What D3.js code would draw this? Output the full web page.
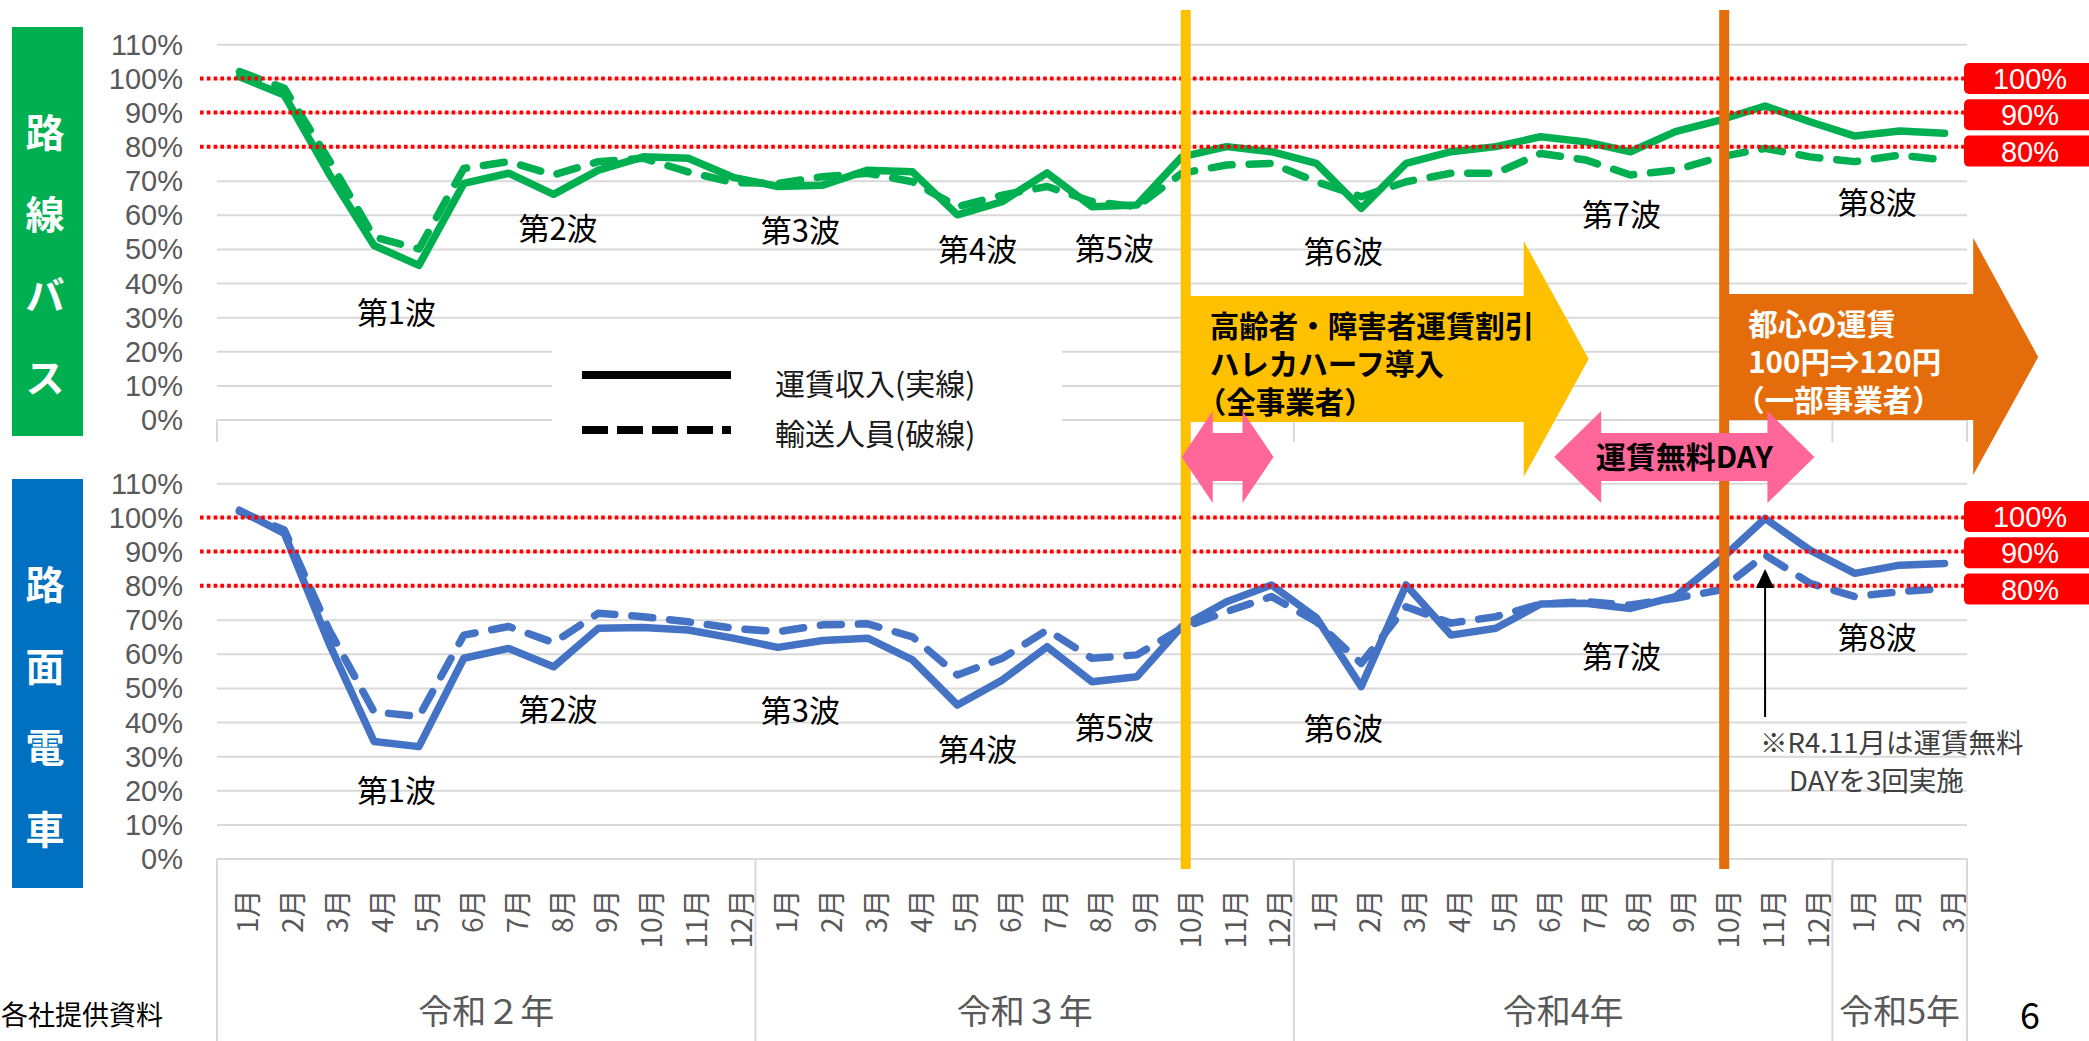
<!DOCTYPE html>
<html>
<head>
<meta charset="utf-8">
<script src="https://cdn.jsdelivr.net/npm/d3@7"></script>
<style>
  html, body { margin: 0; padding: 0; background: #fff; overflow: hidden; }
  svg { display: block; }
  text { font-family: "Noto Sans CJK JP", "Noto Sans", sans-serif; }
</style>
</head>
<body>
<svg id="chart" width="2089" height="1041"></svg>
<script>
// ---- data ---------------------------------------------------------------
const monthLabels = [
  "1月","2月","3月","4月","5月","6月","7月","8月","9月","10月","11月","12月",
  "1月","2月","3月","4月","5月","6月","7月","8月","9月","10月","11月","12月",
  "1月","2月","3月","4月","5月","6月","7月","8月","9月","10月","11月","12月",
  "1月","2月","3月"
];
const yearLabels = ["令和２年", "令和３年", "令和4年", "令和5年"];
const yearMonthCounts = [12, 12, 12, 3];

// 路線バス (% of pre-pandemic level)
const busFare = [
  100.5, 95.1, 72.0, 51.0, 45.2, 69.2, 72.2, 66.0, 73.1, 77.0, 76.6, 71.0,
  68.3, 68.7, 73.1, 72.6, 60.0, 63.9, 72.3, 62.4, 62.9, 77.0, 80.0, 78.5,
  75.1, 61.9, 75.1, 78.5, 80.0, 82.9, 81.4, 78.5, 84.4, 87.8, 91.9, 87.3,
  83.1, 84.6, 83.9
];
const busRiders = [
  102.0, 97.1, 76.0, 53.5, 50.0, 73.6, 75.6, 71.7, 75.6, 76.6, 72.6, 69.5,
  69.2, 71.2, 72.2, 69.7, 62.4, 65.8, 68.3, 63.9, 62.4, 72.2, 74.6, 75.1,
  69.7, 65.3, 69.7, 72.2, 72.2, 78.0, 76.1, 71.7, 73.1, 77.0, 79.5, 77.0,
  75.6, 77.5, 76.1
];
// 路面電車
const tramFare = [
  102.1, 95.3, 63.0, 34.3, 32.8, 58.7, 61.6, 56.2, 67.5, 67.7, 67.0, 64.6,
  61.9, 63.9, 64.6, 58.2, 45.0, 52.3, 62.1, 51.8, 53.3, 68.0, 75.3, 80.2,
  70.6, 50.4, 80.2, 65.5, 67.5, 74.6, 74.8, 73.3, 76.8, 87.5, 99.7, 90.4,
  83.6, 86.0, 86.5
];
const tramRiders = [
  101.7, 96.3, 67.0, 43.0, 41.6, 65.5, 68.0, 63.3, 71.9, 70.9, 69.4, 67.5,
  66.5, 68.5, 68.8, 65.0, 53.8, 58.7, 67.0, 58.7, 59.7, 67.5, 72.4, 76.8,
  69.4, 57.2, 73.8, 69.0, 70.9, 74.6, 75.3, 74.3, 76.3, 78.7, 89.0, 80.7,
  76.8, 78.2, 79.2
];

const yTicks = [0, 10, 20, 30, 40, 50, 60, 70, 80, 90, 100, 110];
const guideValues = [100, 90, 80];

const waveLabels = ["第1波", "第2波", "第3波", "第4波", "第5波", "第6波", "第7波", "第8波"];
// label anchors as [month index, percent]
const busWaveAnchors = [[3.5, 32.1], [7.1, 56.7], [12.5, 56.1], [16.45, 50.3], [19.5, 50.6], [24.6, 49.7], [30.8, 60.8], [36.5, 64.3]];
const tramWaveAnchors = [[3.5, 20.4], [7.1, 44.4], [12.5, 44.1], [16.45, 32.4], [19.5, 39.0], [24.6, 38.6], [30.8, 59.7], [36.5, 65.5]];

const busTitle = ["路", "線", "バ", "ス"];
const tramTitle = ["路", "面", "電", "車"];
const legendLabels = ["運賃収入(実線)", "輸送人員(破線)"];

const eventMonths = [21, 33];            // R3.10 and R4.10
const freeDayMonth = 34;                 // R4.11
const discountLines = ["高齢者・障害者運賃割引", "ハレカハーフ導入", "（全事業者）"];
const fareLines = ["都心の運賃", "100円⇒120円", "（一部事業者）"];
const freeDayLabel = "運賃無料DAY";
const noteLines = ["※R4.11月は運賃無料", "DAYを3回実施"];

// ---- layout -------------------------------------------------------------
const svg = d3.select("#chart");
const plotL = 217, plotR = 1967;
const GRID = "#D9D9D9", AXIS_TXT = "#595959";
const YELLOW = "#FFC000", ORANGE = "#E46C0A", PINK = "#FF6699", RED = "#FF0000";

const x = d3.scaleBand().domain(d3.range(monthLabels.length)).range([plotL, plotR]);
const cx = i => x(i) + x.bandwidth() / 2;
const xf = d3.scaleLinear().domain([0, monthLabels.length]).range([plotL, plotR]);

const panels = [
  { y: d3.scaleLinear().domain([0, 110]).range([419.5, 44.3]), line: "#00B050", box: "#00B050",
    fare: busFare, riders: busRiders, title: busTitle, boxY: [27, 436], titleY0: 130,
    waves: busWaveAnchors, tagTop: 63 },
  { y: d3.scaleLinear().domain([0, 110]).range([858.5, 483.3]), line: "#4472C4", box: "#0070C0",
    fare: tramFare, riders: tramRiders, title: tramTitle, boxY: [479, 888], titleY0: 582,
    waves: tramWaveAnchors, tagTop: 501 }
];

panels.forEach(p => {
  const g = svg.append("g");

  // horizontal gridlines
  g.append("g")
    .attr("transform", `translate(${plotL},0)`)
    .call(d3.axisLeft(p.y).tickValues(yTicks).tickSize(-(plotR - plotL)).tickFormat(""))
    .call(a => a.select(".domain").remove())
    .call(a => a.selectAll("line").attr("stroke", GRID).attr("stroke-width", 2));

  // y tick labels
  g.append("g")
    .attr("transform", `translate(${plotL},0)`)
    .call(d3.axisLeft(p.y).tickValues(yTicks).tickSize(0).tickPadding(34).tickFormat(d => d + "%"))
    .call(a => a.select(".domain").remove())
    .call(a => a.selectAll("text")
      .attr("fill", AXIS_TXT).attr("font-size", 29).attr("dy", null)
      .attr("dominant-baseline", "central").style("font-family", '"Liberation Sans", Arial, sans-serif'));

  const line = d3.line().x((d, i) => cx(i)).y(d => p.y(d));

  g.append("path").datum(p.riders)
    .attr("d", line).attr("fill", "none").attr("stroke", p.line)
    .attr("stroke-width", 7.5).attr("stroke-linecap", "round").attr("stroke-linejoin", "round")
    .attr("stroke-dasharray", "21,17");

  g.append("path").datum(p.fare)
    .attr("d", line).attr("fill", "none").attr("stroke", p.line)
    .attr("stroke-width", 7.5).attr("stroke-linecap", "round").attr("stroke-linejoin", "round");

  // red reference lines
  g.selectAll(".guide").data(guideValues).join("line")
    .attr("x1", 200).attr("x2", 1964)
    .attr("y1", d => p.y(d)).attr("y2", d => p.y(d))
    .attr("stroke", RED).attr("stroke-width", 4).attr("stroke-dasharray", "3.6,3.2");

  // reference tags on the right
  const tags = g.selectAll(".tag").data(guideValues).join("g")
    .attr("transform", (d, i) => `translate(1964,${p.tagTop + i * 36.3})`);
  tags.append("rect").attr("width", 140).attr("height", 31).attr("rx", 5).attr("fill", RED);
  tags.append("text").attr("x", 66).attr("y", 16).attr("text-anchor", "middle")
    .attr("dominant-baseline", "central").attr("fill", "#fff").attr("font-size", 29)
    .style("font-family", '"Liberation Sans", Arial, sans-serif')
    .text(d => d + "%");

  // wave labels
  g.selectAll(".wave").data(p.waves).join("text")
    .attr("x", d => xf(d[0] + 0.5)).attr("y", d => p.y(d[1]))
    .attr("text-anchor", "middle").attr("dominant-baseline", "central")
    .attr("font-size", 31).attr("fill", "#000")
    .text((d, i) => waveLabels[i]);

  // vertical title box
  g.append("rect").attr("x", 12).attr("y", p.boxY[0]).attr("width", 71)
    .attr("height", p.boxY[1] - p.boxY[0]).attr("fill", p.box);
  g.selectAll(".ttl").data(p.title).join("text")
    .attr("x", 45).attr("y", (d, i) => p.titleY0 + i * 81.5)
    .attr("text-anchor", "middle").attr("dominant-baseline", "central")
    .attr("font-size", 39).attr("font-weight", 700).attr("fill", "#fff")
    .text(d => d);
});

// year boundaries (month index where each year starts, plus the end)
const yearStarts = [0];
yearMonthCounts.forEach(c => yearStarts.push(yearStarts[yearStarts.length - 1] + c));

// upper chart: category axis stub below the plot
const topY = panels[0].y;
svg.append("g").selectAll("line").data(yearStarts).join("line")
  .attr("x1", d => xf(d)).attr("x2", d => xf(d))
  .attr("y1", topY(0)).attr("y2", 442)
  .attr("stroke", GRID).attr("stroke-width", 2);

// legend panel
const lg = svg.append("g");
lg.append("rect").attr("x", 552).attr("y", 334).attr("width", 510).attr("height", 112).attr("fill", "#fff");
lg.append("line").attr("x1", 582).attr("x2", 731).attr("y1", 375).attr("y2", 375)
  .attr("stroke", "#000").attr("stroke-width", 8);
lg.append("line").attr("x1", 582).attr("x2", 731).attr("y1", 430).attr("y2", 430)
  .attr("stroke", "#000").attr("stroke-width", 8).attr("stroke-dasharray", "26,9");
lg.selectAll("text").data(legendLabels).join("text")
  .attr("x", 775).attr("y", (d, i) => 382 + i * 50)
  .attr("dominant-baseline", "central").attr("font-size", 30).attr("fill", "#1a1a1a")
  .text(d => d);

// lower chart: month axis
const botY = panels[1].y;
const xAxis = svg.append("g")
  .attr("transform", `translate(0,${botY(0)})`)
  .call(d3.axisBottom(x).tickSize(0).tickFormat(i => monthLabels[i]));
xAxis.select(".domain").attr("stroke", GRID).attr("stroke-width", 2);
xAxis.selectAll("text")
  .attr("transform", "translate(7,31) rotate(-90)")
  .attr("x", 0).attr("y", 0).attr("dy", null)
  .attr("text-anchor", "end").attr("dominant-baseline", "central")
  .attr("font-size", 28).attr("fill", AXIS_TXT)
  .style("font-family", '"Noto Sans CJK JP", sans-serif');

svg.append("g").selectAll("line").data(yearStarts).join("line")
  .attr("x1", d => xf(d)).attr("x2", d => xf(d))
  .attr("y1", botY(0)).attr("y2", 1041)
  .attr("stroke", GRID).attr("stroke-width", 2);

svg.append("g").selectAll("text").data(yearLabels).join("text")
  .attr("x", (d, i) => (xf(yearStarts[i]) + xf(yearStarts[i + 1])) / 2)
  .attr("y", 1009).attr("text-anchor", "middle").attr("dominant-baseline", "central")
  .attr("font-size", 34).attr("fill", AXIS_TXT)
  .text(d => d);

// ---- event callouts -----------------------------------------------------
const evX = eventMonths.map(m => cx(m) + 4);

// yellow block arrow
const yx = evX[0];
svg.append("path").attr("fill", YELLOW)
  .attr("d", `M${yx},296 H${yx + 338} V241 L${yx + 403},359 L${yx + 338},477 V422 H${yx} Z`);
// orange block arrow
const ox = evX[1];
svg.append("path").attr("fill", ORANGE)
  .attr("d", `M${ox},294 H${ox + 249} V238 L${ox + 314},357 L${ox + 249},475 V420 H${ox} Z`);

// vertical event lines
svg.append("g").selectAll("line").data(evX).join("line")
  .attr("x1", d => d).attr("x2", d => d).attr("y1", 10).attr("y2", 869)
  .attr("stroke", (d, i) => i === 0 ? YELLOW : ORANGE).attr("stroke-width", 10);

// full-width opening brackets carry their own left padding; pull those lines back
const bracketShift = d => d.startsWith("（") ? -13 : 0;

svg.append("g").selectAll("text").data(discountLines).join("text")
  .attr("x", d => yx + 24 + bracketShift(d)).attr("y", (d, i) => 324 + i * 38)
  .attr("dominant-baseline", "central").attr("font-size", 29.5).attr("font-weight", 700)
  .attr("fill", "#000").text(d => d);

svg.append("g").selectAll("text").data(fareLines).join("text")
  .attr("x", d => ox + 24 + bracketShift(d)).attr("y", (d, i) => 322 + i * 38)
  .attr("dominant-baseline", "central").attr("font-size", 29.5).attr("font-weight", 700)
  .attr("fill", "#fff").text(d => d);

// pink double arrows
function doubleArrow(x0, x1, head) {
  const cy = 457, sh = 24, hh = 46;
  return `M${x0},${cy} L${x0 + head},${cy - hh} V${cy - sh} H${x1 - head} V${cy - hh} L${x1},${cy} ` +
         `L${x1 - head},${cy + hh} V${cy + sh} H${x0 + head} V${cy + hh} Z`;
}
svg.append("path").attr("fill", PINK).attr("d", doubleArrow(yx - 4, xf(23.5) + 2, 31));
svg.append("path").attr("fill", PINK).attr("d", doubleArrow(xf(29.8), xf(35.6), 47));
svg.append("text").attr("x", (xf(29.8) + xf(35.6)) / 2).attr("y", 455)
  .attr("text-anchor", "middle").attr("dominant-baseline", "central")
  .attr("font-size", 30).attr("font-weight", 700).attr("fill", "#000")
  .text(freeDayLabel);

// note pointing at R4.11
const nx = cx(freeDayMonth);
svg.append("line").attr("x1", nx).attr("x2", nx).attr("y1", 717).attr("y2", 586)
  .attr("stroke", "#000").attr("stroke-width", 2);
svg.append("path").attr("fill", "#000")
  .attr("d", `M${nx - 9},588 L${nx + 9},588 L${nx},569 Z`);
svg.append("g").selectAll("text").data(noteLines).join("text")
  .attr("x", (d, i) => nx - 5 + i * 29).attr("y", (d, i) => 741 + i * 38)
  .attr("dominant-baseline", "central").attr("font-size", 27.5).attr("fill", "#404040")
  .text(d => d);

// footer
svg.append("text").attr("x", 1).attr("y", 1013)
  .attr("dominant-baseline", "central").attr("font-size", 27).attr("fill", "#000")
  .text("各社提供資料");
svg.append("text").attr("x", 2030).attr("y", 1029).attr("text-anchor", "middle")
  .attr("font-size", 36).attr("fill", "#000").text("6");
</script>
</body>
</html>
